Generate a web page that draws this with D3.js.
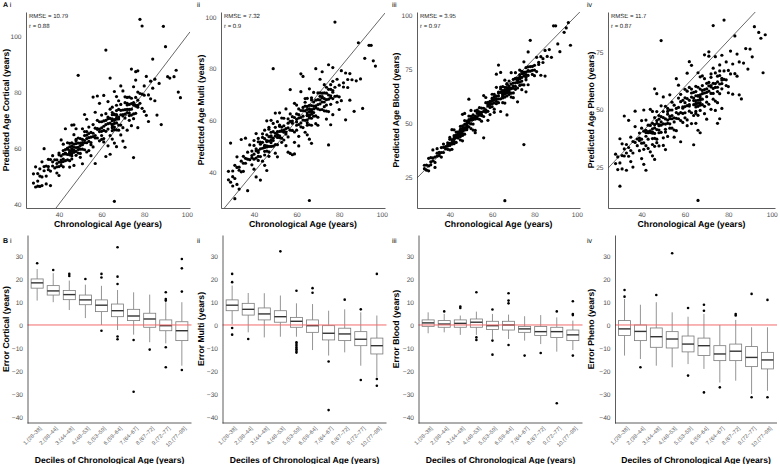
<!DOCTYPE html>
<html><head><meta charset="utf-8">
<script src="https://cdn.jsdelivr.net/npm/d3@7"></script>
<style>
body{margin:0;background:#fff}
svg{display:block}
text{font-family:"Liberation Sans",Arial,Helvetica,sans-serif;text-rendering:geometricPrecision}
</style>
</head><body>
<svg id="c" width="780" height="464"></svg>
<script>
// ---------- DATA ----------
const clocks = ["Cortical","Multi","Blood","Pheno"];
const romans = ["i","ii","iii","iv"];
const rmseText = ["10.79","7.32","3.95","11.7"];
const rText = ["0.88","0.9","0.97","0.87"];
const xTicksTop = [40,60,80,100];
const yTicksTop = [[40,60,80,100],[40,60,80,100],[25,50,75,100],[25,50,75]];
const yTicksBottom = [30,20,10,0,-10,-20,-30,-40];
const decileLabels = ["1.(28–38]","2.(38–44]","3.(44–48]","4.(48–53]","5.(53–59]","6.(59–64]","7.(64–67]","8.(67–72]","9.(72–77]","10.(77–98]"];

// chronological ages of subjects (shared by all four clocks)
const ages = [
28,28,29,29,30,30,30,31,31,31,32,32,32,33,33,33,34,34,34,35,35,35,36,36,36,37,37,37,38,38,
39,39,39,39,40,40,40,40,40,41,41,41,41,41,42,42,42,42,42,42,43,43,43,43,43,44,44,44,44,44,
45,45,45,45,45,45,45,45,46,46,46,46,46,46,46,46,47,47,47,47,47,47,47,48,48,48,48,48,48,48,
49,49,49,49,49,49,50,50,50,50,50,50,51,51,51,51,51,51,52,52,52,52,52,52,53,53,53,53,53,53,
54,54,54,54,54,55,55,55,55,55,56,56,56,56,56,57,57,57,57,57,58,58,58,58,58,59,59,59,59,59,
60,60,60,60,60,60,61,61,61,61,61,61,62,62,62,62,62,62,63,63,63,63,63,63,64,64,64,64,64,64,
65,65,65,65,65,65,65,65,65,65,66,66,66,66,66,66,66,66,66,66,67,67,67,67,67,67,67,67,67,67,
68,68,68,68,68,68,69,69,69,69,69,69,70,70,70,70,70,70,71,71,71,71,71,71,72,72,72,72,72,72,
73,73,73,73,73,73,74,74,74,74,74,74,75,75,75,75,75,75,76,76,76,76,76,76,77,77,77,77,77,77,
78,78,78,79,79,79,80,80,80,81,81,82,82,83,83,84,84,85,85,86,87,88,89,90,91,92,94,95,96,97];

// prediction errors (predicted - chronological), per subject
const errCortical = [
19.5,22.8,17.1,24.3,16.4,20.9,18.2,15.3,21.6,19.0,17.7,23.1,14.6,18.9,20.4,26.8,16.0,19.6,13.2,18.4,21.0,17.3,15.8,19.9,10.6,18.1,16.6,20.3,14.9,17.8,
14.3,16.8,12.1,15.5,18.2,13.4,10.2,15.0,17.6,14.7,12.8,21.9,16.2,13.9,15.8,11.3,17.1,14.1,19.4,13.2,16.5,15.2,23.9,12.5,14.9,17.9,13.7,15.6,11.8,16.0,
13.0,15.4,10.5,12.6,14.1,8.2,16.7,13.5,11.2,14.8,12.0,22.2,13.8,10.1,15.9,12.9,17.8,11.5,13.3,6.8,14.4,12.3,21.3,15.1,10.8,13.6,9.4,14.6,12.2,18.9,
10.5,12.8,37.0,11.3,14.6,9.2,8.1,10.9,13.4,6.7,11.8,9.6,15.9,10.2,12.1,3.4,11.0,8.6,13.9,10.7,20.0,9.9,12.5,7.4,11.6,17.3,10.4,8.9,12.9,5.6,
8.4,11.2,5.1,9.7,13.5,7.0,2.3,8.9,10.6,6.2,22.2,8.1,12.4,4.4,9.3,7.5,15.8,6.6,10.1,-2.5,8.7,11.9,5.6,9.0,20.6,7.8,3.6,10.4,6.9,17.0,
6.0,9.4,3.1,7.2,11.8,4.5,1.2,6.8,8.7,17.8,5.3,2.4,7.9,33.0,4.0,10.3,-5.0,6.4,8.1,3.8,13.6,5.7,-2.2,7.5,21.0,4.9,9.9,0.5,-6.2,6.6,
3.5,6.9,1.2,4.8,9.6,2.3,-1.8,5.4,3.0,7.7,-25.0,4.2,0.6,6.1,14.2,2.8,3.9,-4.2,5.9,1.5,8.3,3.3,-0.5,4.6,11.4,2.0,6.4,-6.5,3.7,5.0,
2.4,5.8,-1.6,3.1,8.9,0.2,-4.3,2.9,6.6,-0.8,4.5,13.2,1.5,-7.5,3.6,2.0,10.4,-2.7,5.2,1.1,-10.7,2.7,7.3,-0.3,4.0,1.8,-5.6,3.4,6.1,0.7,
-0.5,2.6,-3.1,0.8,5.2,-1.4,-6.0,1.9,-2.2,14.2,-0.1,3.8,-18.4,-2.8,0.4,6.9,-4.5,1.2,-1.0,11.3,-3.6,2.1,-0.7,8.3,-9.7,0.1,-2.4,10.6,3.0,-1.7,
28.0,-2.0,1.5,24.6,-4.8,0.3,-6.9,2.2,-1.1,-9.3,4.6,-3.0,-12.5,0.9,-5.4,-2.6,7.8,-8.1,-0.4,-14.2,-3.9,-19.6,14.5,6.2,-5.5,-7.0,-8.5,-7.2,-16.0,-19.0];

const errMulti = [
9.0,12.3,22.2,7.1,4.6,10.4,8.2,-1.3,11.6,6.5,9.8,3.2,13.9,7.7,8.9,0.4,10.2,6.1,18.6,8.4,11.1,5.3,9.3,17.1,7.4,-4.2,10.7,8.0,6.8,12.5,
6.5,9.1,3.8,7.4,12.2,5.0,1.1,6.9,10.3,4.4,8.0,-2.9,7.2,13.9,5.6,9.7,2.5,6.3,11.0,4.1,-6.1,7.8,8.6,3.0,6.0,10.8,5.2,0.2,7.5,9.4,
4.5,7.9,1.6,5.3,11.2,3.0,-2.4,4.9,8.4,2.1,6.2,13.8,3.7,-5.4,5.8,4.1,9.6,0.8,6.7,2.9,5.0,10.3,-0.9,4.3,7.4,3.4,12.0,1.9,6.0,5.5,
3.2,6.6,31.0,4.1,9.8,1.0,-2.7,3.9,7.3,0.6,5.0,12.8,2.4,-5.1,4.6,3.5,8.5,-0.4,5.7,2.0,3.7,10.9,1.3,6.2,-1.5,4.4,2.8,7.9,0.1,3.0,
1.4,3.9,-1.6,2.2,6.8,-0.3,-4.8,1.8,9.4,0.5,-8.3,2.9,-2.4,4.6,1.1,14.9,-9.8,2.6,-0.8,5.5,1.7,-11.3,3.4,-1.9,0.9,7.6,-7.5,2.1,-3.5,-12.0,
-0.6,2.5,-3.8,0.4,5.9,-1.9,-7.2,-0.1,3.4,-2.6,1.2,-10.9,-4.5,16.0,1.8,-0.9,9.1,-3.0,0.8,-5.8,2.0,-1.4,14.0,-2.9,4.4,-0.3,-8.6,1.5,-4.0,3.0,
-3.2,0.4,-6.9,-2.1,3.5,-4.8,-10.6,-3.0,-0.8,-5.9,-37.0,-1.6,-4.3,6.2,-7.7,-2.6,-3.9,-13.3,-0.2,-5.1,1.7,-3.5,-8.9,-1.3,-6.2,-15.9,-2.8,-4.6,0.9,-3.7,
-3.6,-0.9,-6.4,-2.5,2.8,-5.0,-10.3,-3.4,-1.2,-7.3,11.0,-4.2,-2.0,-8.8,-3.9,0.6,-5.6,-11.9,-1.7,-4.6,4.9,-3.1,-6.9,-0.4,-4.9,-2.8,6.8,-7.8,-3.3,-1.5,
-5.9,-2.4,-9.3,-4.6,0.8,-7.7,-13.5,-6.0,-3.5,-10.4,-1.2,-8.1,-24.5,-5.2,-6.8,6.5,-11.6,-3.0,-7.2,-4.0,-17.7,-6.5,-2.2,-9.8,-5.5,3.4,-8.6,-1.9,-14.8,-6.1,
20.0,-8.7,-5.2,-12.0,-3.1,-9.6,-15.8,-6.4,-10.9,-1.8,-13.4,-7.5,-9.1,-22.8,-4.7,-11.3,-8.2,-17.2,-6.9,-10.3,-23.5,-12.7,1.0,-14.0,-26.4,-8.0,-5.0,-6.0,-13.0,-16.0];

const errBlood = [
0.8,2.4,-0.9,1.5,3.6,0.1,-2.2,1.0,2.9,-0.4,1.8,5.5,0.5,-3.6,1.2,-1.3,2.0,0.6,4.1,-0.2,1.4,0.9,-1.8,2.6,0.3,3.2,-0.7,1.7,0.0,1.1,
0.3,1.8,-1.2,0.9,3.3,-0.4,-2.5,0.5,2.4,-0.8,1.3,5.9,0.0,-3.2,1.0,-1.6,2.1,0.4,4.8,-0.6,0.7,1.5,-2.0,0.2,2.8,-0.2,1.1,-1.0,0.6,1.9,
0.6,2.0,-1.3,1.2,3.4,-0.5,-2.9,0.8,2.6,-0.9,1.5,8.0,0.2,-4.3,1.0,-1.8,2.3,0.4,4.1,-0.3,0.9,7.4,-2.2,0.1,1.8,-0.6,2.9,-1.1,0.7,1.6,
1.0,2.5,12.0,1.6,4.2,-0.8,-2.6,1.3,3.1,-0.4,2.0,5.8,0.6,-4.3,1.5,-1.5,2.7,0.9,-5.4,-0.2,1.2,3.6,-6.5,0.3,2.2,-1.0,1.8,0.0,2.9,1.4,
-0.4,1.2,-2.3,0.3,3.1,-1.1,-4.2,-0.1,1.9,-1.6,-12.9,0.8,-3.0,6.7,-0.6,-2.0,2.4,-0.9,4.8,-1.3,0.5,-6.8,-2.6,1.5,-0.2,-5.1,1.0,-1.8,0.2,-0.5,
0.1,1.5,-2.5,0.6,3.3,-1.2,-4.6,-0.2,2.2,-1.7,1.0,-6.1,-3.1,10.6,0.4,-0.8,4.5,-2.0,0.9,-3.6,1.3,-0.5,13.8,-1.9,2.6,9.4,-8.7,1.7,-2.8,0.2,
-1.5,0.0,-3.4,-1.0,1.8,-2.4,-5.6,-1.6,-0.3,-2.9,-52.0,-0.8,-2.1,3.8,-4.0,-1.2,-1.9,-6.8,0.5,-2.7,0.9,-1.4,-4.5,-0.6,-3.0,-13.3,-1.8,-2.3,1.2,-1.7,
-2.7,-0.9,-4.8,-1.8,1.4,-3.5,-7.0,-2.8,-1.0,-5.2,4.3,-3.1,-1.5,-6.1,-2.9,0.2,-3.9,-8.3,-0.6,-4.1,2.3,-2.4,-5.4,-0.3,-3.3,-1.9,-12.2,-5.8,-2.5,-1.2,
-2.6,-0.7,-5.6,-1.8,1.5,-4.1,-8.6,-2.9,-1.2,-6.3,-0.1,-4.6,-35.0,-3.2,-2.0,3.3,-7.4,-1.5,-4.9,-2.4,-11.6,-3.6,-0.4,-6.0,-2.8,5.9,-5.0,-1.0,-9.3,-3.0,
-4.0,-1.9,10.3,-6.5,-2.8,-4.6,-8.1,-3.3,-5.5,-0.6,-7.2,-3.9,-4.9,-10.9,-2.3,-6.0,-4.2,-13.3,-1.4,-5.2,-3.0,-7.6,6.0,5.0,-4.4,-9.0,-2.0,-1.0,0.5,-11.0];

const errPheno = [
-1.5,2.6,-5.1,0.4,7.3,-3.2,-13.3,-1.0,4.1,-6.8,-2.2,15.2,0.9,-9.4,-1.9,1.8,-4.3,11.3,-0.5,-7.6,3.0,-2.8,-11.0,0.1,-4.9,12.3,-1.3,5.6,-3.7,-0.8,
-2.5,0.8,-6.9,-1.4,5.2,-4.6,-11.3,-2.9,1.9,-8.3,-0.4,8.8,-5.5,-14.8,-2.0,-3.6,3.4,-7.7,-1.0,-18.4,-3.1,0.2,-9.9,-2.6,-5.9,6.1,-4.0,-0.9,-12.4,-3.3,
-4.8,-1.0,-10.2,-3.4,4.2,-7.6,-15.1,-5.3,0.5,-12.0,-2.6,13.0,-8.5,-17.7,-4.0,-6.4,2.1,-9.9,-1.8,-5.7,9.9,-11.4,-3.0,-6.9,-0.6,-13.8,-4.5,-8.1,-2.2,-5.0,
-5.8,-2.1,31.0,-4.4,2.6,-8.9,-15.6,-6.2,-0.9,-12.3,-3.5,5.5,-9.6,-18.4,-5.1,-7.3,0.4,-10.8,-2.8,-6.6,-13.7,-4.0,-8.0,-1.5,-11.1,3.4,-6.0,-9.2,-3.2,-7.0,
-8.0,-4.2,-12.1,-6.6,-0.8,-10.4,-17.0,-8.6,-3.1,-13.9,-5.5,7.4,-9.8,-15.2,-7.3,-2.0,-11.0,-8.9,3.6,-6.1,-12.8,-4.6,-22.0,-9.3,-1.4,-14.6,-7.8,-10.7,-5.0,-8.4,
-8.7,-4.9,-13.6,-7.0,-1.2,-11.4,-18.0,-9.3,-3.0,-15.5,-6.2,4.8,-10.5,8.8,-8.0,-2.4,-12.7,-9.8,6.2,-5.8,-14.4,-7.6,-19.1,-4.1,-11.9,-29.3,-9.0,-6.5,-16.6,-10.1,
-12.3,-9.0,-15.8,-11.1,-4.9,-13.9,-21.0,-12.8,-7.2,-16.7,-55.5,-10.2,-14.6,0.0,-12.0,-18.5,-9.9,-25.0,-6.3,-13.3,-11.5,-15.1,-2.8,-12.5,-17.4,-27.1,-10.6,-14.1,-8.1,-12.9,
-11.1,-7.6,-15.9,-9.7,-3.4,-13.5,-20.8,-11.8,-5.6,-17.6,4.8,-10.3,-14.4,-24.2,-11.0,-8.6,-16.8,-12.5,2.2,-9.2,-13.0,4.1,-18.7,-10.7,-6.5,-15.0,-11.6,-8.0,-21.9,-12.2,
-13.8,13.5,-18.5,-11.6,-5.0,-16.0,-24.4,-14.4,-8.1,-20.3,-1.0,-12.7,-31.0,-15.3,-10.5,-17.2,-13.0,-22.0,-6.6,-14.9,-30.0,-11.2,-19.1,-9.2,-15.7,-3.4,-13.4,-18.0,-26.5,-14.2,
10.9,-14.9,-11.2,-18.6,-8.3,-16.1,-22.7,-13.0,-20.0,-5.6,-15.5,-25.3,-12.2,-17.4,-1.0,-19.5,-9.9,-28.6,-14.3,-31.4,-16.8,-11.5,-21.4,-13.7,-18.1,-6.0,-10.5,-14.0,-30.0,-14.5];

// boxplot statistics per decile: [lower whisker, Q1, median, Q3, upper whisker]
const boxCortical = [[10.6,16,18.3,20,24.3],[9.9,13,14.8,17.1,22.5],[6.5,11,13.2,15,19.3],[3,8.8,10.9,13,17.5],[0,5.8,8.6,10.9,17],[-2.2,3.6,6.2,9.1,15.2],[-4.2,1.9,3.9,6.8,14.2],[-7.5,-1,2.6,5.1,13.2],[-8,-2.5,-0.3,2.2,9.9],[-17.7,-6.8,-2.5,1.4,9.9]];
const outCortical = [[26.8],[23.9],[22.2,21.3],[20],[22.2,20.6,-2.5],[33.8,21,17.8,-5,-6.2],[-6.5,-29],[-10.7],[14.2,11.3,10.6,-9.7,-18.4],[28.7,24.6,14.5,-19.6]];
const boxMulti = [[0.4,6.2,8.6,10.9,17.1],[-3.2,4.3,6.8,9.4,13.9],[-5.4,2.2,4.8,7.4,13.8],[-5.1,1.2,3.6,6.2,12.8],[-5.1,-1,1.6,3.3,9.4],[-10.9,-3.2,-0.3,2.2,9.1],[-13.3,-6.5,-3.6,-0.3,6.2],[-11.9,-6.8,-3.9,-1.4,6.8],[-17.7,-9,-6.2,-2.9,5.5],[-22.8,-12.6,-9,-5.7,4.1]];
const outMulti = [[22.2,18.6,-1.3,-4.2],[-6.1],[],[32],[14.9,-7.5,-8.3,-9,-9.8,-10.5,-11.3,-12],[16,14],[-15.9,-37],[11],[6.8,-23.9],[22.2,-23.5,-26.4]];
const boxBlood = [[-3.6,-0.6,0.9,2.2,5.5],[-3.2,-1,0.4,1.9,4.8],[-4.3,-1,0.7,2.2,4.1],[-4.3,-1,1.2,2.6,5.8],[-6.1,-2,-0.3,1.6,4.8],[-6.1,-2.2,0,1.6,4.5],[-6.8,-3.2,-1.7,-0.6,3.8],[-8.3,-4.6,-2.9,-0.7,4.3],[-11.6,-5.4,-2.9,-1,3.3],[-10.9,-6.8,-4.3,-2.2,1.9]];
const outBlood = [[],[5.9],[8,7.4],[14.2,-5.4,-6.5],[6.7,-6.8,-12.9],[13.8,10.6,9.4,-8.7],[-13.3],[-12.2],[5.9,-34],[10.3,4.8,4.3,-13.3]];
const boxPheno = [[-13.3,-4.6,-1.7,1.9,11.3],[-14.8,-6.8,-2.8,0,8.8],[-17.7,-9.7,-5.1,-1.3,9.9],[-18.4,-10,-6.1,-2.9,5.5],[-17,-11.7,-8.3,-4.8,3.6],[-19.1,-13.3,-9,-5.7,4.8],[-25,-15.5,-12.6,-9,0],[-24.2,-15.5,-11.4,-8.3,2.2],[-30,-18.1,-14.1,-9.4,-1],[-28.6,-19.1,-15.2,-11.9,-1]];
const outPheno = [[15.2,12.3],[-18.4],[13],[31.2],[7.4,-22],[8.8,6.2,-29.3],[-27.1],[4.8,4.1],[13.5,-31.4],[10.9,-31.4]];

// ---------- DRAWING ----------
const errs = [errCortical, errMulti, errBlood, errPheno];
const boxes = [boxCortical, boxMulti, boxBlood, boxPheno];
const outs = [outCortical, outMulti, outBlood, outPheno];

const svg = d3.select("#c");
const TICK_COL = "#4d4d4d";
const AX_COL = "#333";

function styleAxis(g){
  g.select(".domain").attr("stroke", AX_COL).attr("stroke-width", 0.8);
  g.selectAll(".tick line").remove();
  g.selectAll(".tick text").attr("fill", TICK_COL).attr("font-size", 6.6)
    .attr("font-family", '"Liberation Sans", Arial, sans-serif');
}

// top row layout
const topX = [[26,190],[221,385],[417,580],[608,775]];
const topY = [12,208];
const topYDom = [[38.6,108.6],[26.1,101.9],[10.6,101.4],[7.2,92.4]];
const xDom = [24.5,101.5];

// bottom row layout
const botX = [[27.5,191.5],[222.5,386.5],[418.5,582.5],[615,777]];
const botY = [235,423];
const botYDom = [-42.6,39.1];

clocks.forEach((clock, k) => {
  // ===== top scatter =====
  const [x0, x1] = topX[k];
  const x = d3.scaleLinear().domain(xDom).range([x0, x1]);
  const y = d3.scaleLinear().domain(topYDom[k]).range([topY[1], topY[0]]);
  const clipId = "clipT" + k;
  svg.append("clipPath").attr("id", clipId).append("rect")
    .attr("x", x0).attr("y", topY[0]).attr("width", x1 - x0).attr("height", topY[1] - topY[0]);
  const g = svg.append("g");
  const pts = ages.map((a, i) => ({a, p: a + errs[k][i]})).filter(d => !isNaN(d.p));
  const plot = g.append("g").attr("clip-path", `url(#${clipId})`);
  plot.selectAll("circle").data(pts).join("circle")
    .attr("cx", d => x(d.a)).attr("cy", d => y(d.p)).attr("r", 1.6).attr("fill", "#000");
  const lo = Math.max(xDom[0], topYDom[k][0]), hi = Math.min(xDom[1], topYDom[k][1]);
  plot.append("line").attr("x1", x(lo)).attr("y1", y(lo)).attr("x2", x(hi)).attr("y2", y(hi))
    .attr("stroke", "#000").attr("stroke-width", 0.6);

  g.append("g").attr("transform", `translate(0,${topY[1]})`)
    .call(d3.axisBottom(x).tickValues(xTicksTop).tickSize(0).tickSizeOuter(0).tickPadding(4.5))
    .call(styleAxis);
  g.append("g").attr("transform", `translate(${x0},0)`)
    .call(d3.axisLeft(y).tickValues(yTicksTop[k]).tickSize(0).tickSizeOuter(0).tickPadding(4.5))
    .call(styleAxis);

  g.append("text").attr("x", x0 + 3).attr("y", 18).attr("font-size", 6).attr("fill", "#222")
    .text("RMSE = " + rmseText[k]);
  g.append("text").attr("x", x0 + 3).attr("y", 28).attr("font-size", 6).attr("fill", "#222")
    .text("r = " + rText[k]);

  g.append("text").attr("x", (x0 + x1) / 2).attr("y", 227).attr("text-anchor", "middle")
    .attr("font-size", 8.7).attr("font-weight", "bold").text("Chronological Age (years)");
  g.append("text").attr("transform", `translate(${195 * k + 9},${(topY[0] + topY[1]) / 2}) rotate(-90)`)
    .attr("text-anchor", "middle").attr("font-size", 8.6).attr("font-weight", "bold")
    .text("Predicted Age " + clock + "  (years)");

  // panel label
  const lbl = g.append("text").attr("x", 195 * k + (k === 0 ? 3 : 2)).attr("y", 7).attr("font-size", 7);
  if (k === 0) lbl.append("tspan").attr("font-weight", "bold").text("A ");
  lbl.append("tspan").text(romans[k]);

  // ===== bottom boxplots =====
  const [bx0, bx1] = botX[k];
  const xb = d3.scalePoint().domain(decileLabels).range([bx0, bx1]).padding(0.6);
  const yb = d3.scaleLinear().domain(botYDom).range([botY[1], botY[0]]);
  const bw = xb.step() * 0.75;
  const gb = svg.append("g");
  const bdata = decileLabels.map((l, i) => ({l, s: boxes[k][i], o: outs[k][i]}));
  const bg = gb.selectAll("g.box").data(bdata).join("g").attr("class", "box");
  bg.append("line").attr("x1", d => xb(d.l)).attr("x2", d => xb(d.l))
    .attr("y1", d => yb(d.s[0])).attr("y2", d => yb(d.s[1])).attr("stroke", "#7a7a7a").attr("stroke-width", 0.8);
  bg.append("line").attr("x1", d => xb(d.l)).attr("x2", d => xb(d.l))
    .attr("y1", d => yb(d.s[3])).attr("y2", d => yb(d.s[4])).attr("stroke", "#7a7a7a").attr("stroke-width", 0.8);
  bg.append("rect").attr("x", d => xb(d.l) - bw / 2).attr("width", bw)
    .attr("y", d => yb(d.s[3])).attr("height", d => yb(d.s[1]) - yb(d.s[3]))
    .attr("fill", "#fff").attr("stroke", "#7a7a7a").attr("stroke-width", 0.8);
  bg.append("line").attr("x1", d => xb(d.l) - bw / 2).attr("x2", d => xb(d.l) + bw / 2)
    .attr("y1", d => yb(d.s[2])).attr("y2", d => yb(d.s[2])).attr("stroke", "#333").attr("stroke-width", 1.4);
  bg.selectAll("circle").data(d => d.o.map(v => ({l: d.l, v}))).join("circle")
    .attr("cx", d => xb(d.l)).attr("cy", d => yb(d.v)).attr("r", 1.3).attr("fill", "#000");

  gb.append("line").attr("x1", bx0).attr("x2", bx1).attr("y1", yb(0)).attr("y2", yb(0))
    .attr("stroke", "#f26b6b").attr("stroke-width", 1);

  gb.append("g").attr("transform", `translate(${bx0},0)`)
    .call(d3.axisLeft(yb).tickValues(yTicksBottom).tickSize(0).tickSizeOuter(0).tickPadding(4.5)
      .tickFormat(v => (v < 0 ? "\u2212" + Math.abs(v) : String(v))))
    .call(styleAxis);
  gb.append("line").attr("x1", bx0).attr("x2", bx1).attr("y1", botY[1]).attr("y2", botY[1])
    .attr("stroke", AX_COL).attr("stroke-width", 0.8);
  gb.selectAll("text.dl").data(decileLabels).join("text").attr("class", "dl")
    .attr("transform", d => `translate(${xb(d) + 2},${botY[1] + 3}) rotate(-45)`)
    .attr("text-anchor", "end").attr("dy", "0.7em").attr("font-size", 5.5).attr("fill", "#555")
    .text(d => d);

  gb.append("text").attr("x", (bx0 + bx1) / 2).attr("y", 463).attr("text-anchor", "middle")
    .attr("font-size", 8.6).attr("font-weight", "bold").text("Deciles of Chronological Age (years)");
  gb.append("text").attr("transform", `translate(${195 * k + 9},${(botY[0] + botY[1]) / 2}) rotate(-90)`)
    .attr("text-anchor", "middle").attr("font-size", 8.6).attr("font-weight", "bold")
    .text("Error " + clock + " (years)");

  const lb = gb.append("text").attr("x", 195 * k + (k === 0 ? 3 : 2)).attr("y", 243).attr("font-size", 7);
  if (k === 0) lb.append("tspan").attr("font-weight", "bold").text("B ");
  lb.append("tspan").text(romans[k]);
});
</script>
</body></html>
